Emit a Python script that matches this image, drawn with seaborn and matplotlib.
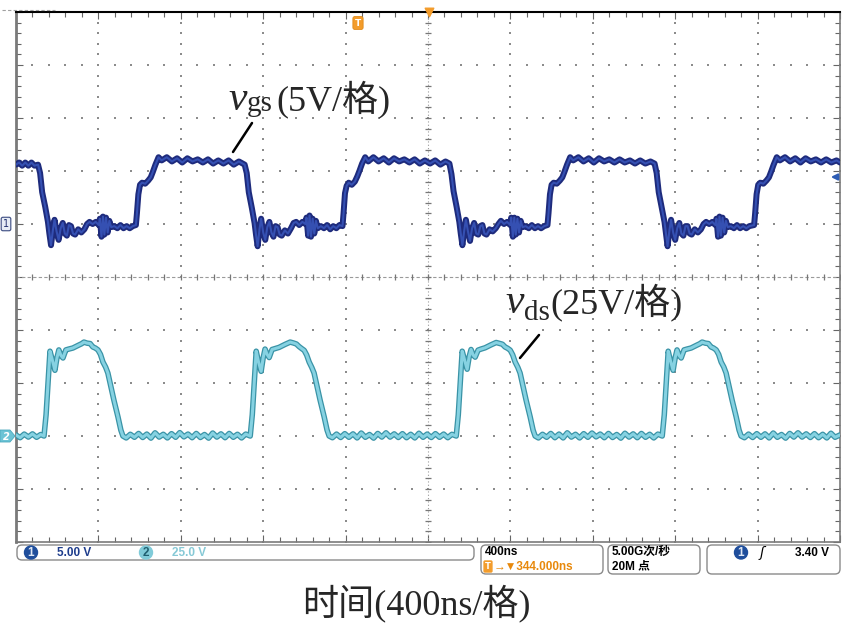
import numpy as np
import matplotlib
matplotlib.use("Agg")
import matplotlib.pyplot as plt
from matplotlib.ticker import MultipleLocator
from matplotlib.patches import FancyBboxPatch, Circle, Polygon
import seaborn as sns

# ---------------- data ----------------
# CH1: v_gs, 5 V/div, time in ns (400 ns/div)
ch1_t = [0, 15, 30, 45, 60, 75, 90, 107,
         117, 127, 142, 155, 162, 170, 179, 187, 197, 207, 217, 227, 237, 247, 257, 267, 277, 287, 302, 317, 332, 345,
         357, 372, 387, 402, 407, 415, 422, 429, 437, 445, 453, 462, 477, 492, 507, 522, 537, 552, 567, 582,
         587, 594, 602, 612, 627, 642, 654, 664, 677, 692, 707,
         732, 757, 782, 807, 832, 857, 882, 907, 932, 957, 982, 1007, 1032, 1057, 1082, 1110,
         1120, 1130, 1145, 1158, 1165, 1173, 1182, 1190, 1200, 1210, 1220, 1230, 1240, 1250, 1260, 1270, 1280, 1290,
         1305, 1320, 1335, 1348, 1360, 1375, 1390, 1405, 1410, 1418, 1425, 1432, 1440, 1448, 1456, 1465, 1480, 1495,
         1510, 1525, 1540, 1555, 1570, 1585,
         1590, 1597, 1605, 1615, 1630, 1645, 1657, 1667, 1680, 1695, 1710,
         1735, 1760, 1785, 1810, 1835, 1860, 1885, 1910, 1935, 1960, 1985, 2010, 2035, 2060, 2085, 2104,
         2114, 2124, 2139, 2152, 2159, 2167, 2176, 2184, 2194, 2204, 2214, 2224, 2234, 2244, 2254, 2264, 2274, 2284,
         2299, 2314, 2329, 2342, 2354, 2369, 2384, 2399, 2404, 2412, 2419, 2426, 2434, 2442, 2450, 2459, 2474, 2489,
         2504, 2519, 2534, 2549, 2564, 2580,
         2585, 2592, 2600, 2610, 2625, 2640, 2652, 2662, 2675, 2690, 2705,
         2730, 2755, 2780, 2805, 2830, 2855, 2880, 2905, 2930, 2955, 2980, 3005, 3030, 3055, 3080, 3100,
         3110, 3120, 3135, 3148, 3155, 3163, 3172, 3180, 3190, 3200, 3210, 3220, 3230, 3240, 3250, 3260, 3270, 3280,
         3295, 3310, 3325, 3338, 3350, 3365, 3380, 3395, 3400, 3408, 3415, 3422, 3430, 3438, 3446, 3455, 3470, 3485,
         3500, 3515, 3530, 3545, 3560, 3583,
         3588, 3595, 3603, 3613, 3628, 3643, 3655, 3665, 3678, 3693, 3708,
         3733, 3758, 3783, 3808, 3833, 3858, 3883, 3908, 3933, 3958, 3983, 4000]
ch1_v = [5.6, 5.8, 5.5, 5.8, 5.5, 5.8, 5.5, 5.6,
         4.8, 3.0, 1.6, 0.2, -0.9, -2.0, -0.6, 0.4, -0.7, -1.5, -0.4, 0.1, -0.9, -1.1, -0.1, -0.2, -0.9, -1.0, -0.5, -0.8, -0.5, 0.0,
         0.2, 0.0, 0.2, -0.1, 0.5, -1.2, 0.7, -1.0, 0.6, -0.8, 0.3, -0.3, -0.2, -0.4, -0.1, -0.4, -0.2, -0.4, -0.2, -0.1,
         1.0, 2.8, 3.7, 3.9, 3.8, 4.1, 4.4, 4.9, 5.6, 6.3, 6.0,
         6.3, 5.9, 6.2, 5.8, 6.2, 5.9, 6.1, 5.8, 6.1, 5.7, 6.0, 5.7, 6.0, 5.6, 5.9, 5.6,
         4.8, 3.0, 1.5, 0.1, -1.0, -2.1, -0.5, 0.5, -0.8, -1.5, -0.3, 0.2, -0.8, -1.2, -0.2, -0.3, -1.0, -1.1,
         -0.6, -0.9, -0.4, 0.1, 0.2, -0.1, 0.2, 0.0, 0.6, -1.1, 0.8, -1.2, 0.5, -0.9, 0.3, -0.4, -0.2, -0.4,
         -0.1, -0.5, -0.2, -0.4, -0.1, -0.2,
         1.0, 2.9, 3.6, 3.9, 3.7, 4.0, 4.5, 5.0, 5.7, 6.3, 5.9,
         6.3, 5.9, 6.2, 5.8, 6.2, 5.9, 6.1, 5.8, 6.1, 5.7, 6.0, 5.7, 6.0, 5.6, 5.9, 5.7,
         4.7, 3.1, 1.6, 0.2, -0.9, -2.0, -0.6, 0.4, -0.7, -1.6, -0.4, 0.1, -0.9, -1.0, -0.2, -0.1, -0.9, -1.0,
         -0.5, -0.7, -0.4, 0.0, 0.3, 0.0, 0.2, -0.1, 0.6, -1.2, 0.6, -1.0, 0.5, -0.8, 0.3, -0.3, -0.2, -0.4,
         -0.1, -0.4, -0.2, -0.4, -0.2, -0.1,
         1.0, 2.8, 3.7, 3.9, 3.8, 4.1, 4.4, 4.9, 5.6, 6.3, 6.0,
         6.3, 5.9, 6.2, 5.8, 6.2, 5.9, 6.1, 5.8, 6.1, 5.8, 6.0, 5.7, 6.0, 5.7, 5.9, 5.7,
         4.8, 3.0, 1.5, 0.2, -0.9, -2.1, -0.6, 0.4, -0.8, -1.5, -0.4, 0.1, -0.9, -1.1, -0.2, -0.2, -0.9, -1.0,
         -0.5, -0.8, -0.5, 0.0, 0.2, 0.0, 0.2, -0.1, 0.5, -1.2, 0.7, -1.1, 0.6, -0.8, 0.3, -0.3, -0.2, -0.4,
         -0.1, -0.4, -0.2, -0.4, -0.2, -0.1,
         1.0, 2.8, 3.7, 3.9, 3.8, 4.1, 4.4, 4.9, 5.6, 6.3, 6.0,
         6.3, 5.9, 6.2, 5.8, 6.2, 5.9, 6.1, 5.8, 6.1, 5.8, 6.0, 5.8]

# CH2: v_ds, 25 V/div
ch2_t = [0, 20, 40, 60, 80, 100, 120, 136,
         146, 156, 165, 176, 189, 199, 208, 218, 228, 242, 256, 276, 290, 305, 318, 330, 345, 360, 373, 385, 398,
         410, 422, 435, 446, 461, 475, 495, 509, 519,
         535, 555, 575, 595, 615, 635, 655, 675, 695, 715, 735, 755, 775, 795, 815, 835, 855, 875, 895, 915, 935,
         955, 975, 995, 1015, 1035, 1055, 1075, 1095, 1115, 1137,
         1147, 1157, 1166, 1177, 1190, 1200, 1209, 1219, 1229, 1243, 1257, 1277, 1291, 1306, 1319, 1331, 1346, 1361,
         1374, 1386, 1399, 1411, 1423, 1436, 1447, 1462, 1476, 1496, 1510, 1520,
         1536, 1556, 1576, 1596, 1616, 1636, 1656, 1676, 1696, 1716, 1736, 1756, 1776, 1796, 1816, 1836, 1856,
         1876, 1896, 1916, 1936, 1956, 1976, 1996, 2016, 2036, 2056, 2076, 2096, 2116, 2137,
         2147, 2157, 2166, 2177, 2190, 2200, 2209, 2219, 2229, 2243, 2257, 2277, 2291, 2306, 2319, 2331, 2346, 2361,
         2374, 2386, 2399, 2411, 2423, 2436, 2447, 2462, 2476, 2496, 2510, 2520,
         2536, 2556, 2576, 2596, 2616, 2636, 2656, 2676, 2696, 2716, 2736, 2756, 2776, 2796, 2816, 2836, 2856,
         2876, 2896, 2916, 2936, 2956, 2976, 2996, 3016, 3036, 3056, 3076, 3096, 3116, 3137,
         3147, 3157, 3166, 3177, 3190, 3200, 3209, 3219, 3229, 3243, 3257, 3277, 3291, 3306, 3319, 3331, 3346, 3361,
         3374, 3386, 3399, 3411, 3423, 3436, 3447, 3462, 3476, 3496, 3510, 3520,
         3536, 3556, 3576, 3596, 3616, 3636, 3656, 3676, 3696, 3716, 3736, 3756, 3776, 3796, 3816, 3836, 3856,
         3876, 3896, 3916, 3936, 3956, 3976, 4000]
ch2_v = [0.5, -0.8, 0.9, -0.5, 1.0, -0.6, 0.7, 0.0,
         10, 26, 40, 36, 31, 37, 40.6, 38, 36.8, 40.6, 41, 41.5, 42.2, 42.9, 43.5, 44.3, 43.8, 43.6, 42.0, 41.5, 40.6,
         38.5, 34.9, 32.5, 29.7, 23.1, 17.0, 9.0, 2.8, 0.0,
         -0.9, 0.8, -0.6, 1.2, -0.7, 0.9, -1.0, 1.5, -0.5, 0.8, -0.9, 1.1, -0.6, 1.6, -0.4, 0.9, -0.8, 1.2, -0.7, 0.7, -1.0,
         1.4, -0.5, 1.0, -0.8, 1.2, -0.6, 0.8, -0.9, 0.9, 0.0,
         10, 26, 40, 35, 30.5, 37, 41, 38.5, 37, 40.8, 41.2, 41.8, 42.5, 43.2, 43.8, 44.3, 43.9, 43.4,
         42.2, 41.3, 40.4, 38.2, 34.9, 32.3, 29.7, 23.1, 17.0, 9.0, 2.8, 0.0,
         -0.8, 0.9, -0.7, 1.1, -0.6, 1.0, -0.9, 1.4, -0.6, 0.7, -1.0, 1.2, -0.5, 1.5, -0.5, 1.0, -0.7,
         1.1, -0.8, 0.8, -0.9, 1.3, -0.6, 0.9, -0.7, 1.1, -0.6, 0.9, -0.8, 0.8, 0.0,
         10, 26, 40, 36, 31.5, 37.5, 40.8, 38.2, 37.2, 40.5, 41, 41.6, 42.3, 43.0, 43.6, 44.1, 43.7, 43.3,
         42.0, 41.4, 40.5, 38.3, 34.9, 32.4, 29.7, 23.1, 17.0, 9.0, 2.8, 0.0,
         -0.9, 0.8, -0.6, 1.2, -0.8, 0.9, -0.9, 1.5, -0.5, 0.8, -0.9, 1.1, -0.6, 1.4, -0.4, 0.9, -0.8,
         1.2, -0.7, 0.7, -1.0, 1.3, -0.5, 1.0, -0.8, 1.2, -0.6, 0.8, -0.9, 0.9, 0.0,
         10, 26, 40, 35.5, 31, 37, 40.6, 38, 36.8, 40.6, 41, 41.5, 42.2, 42.9, 43.5, 44.3, 43.8, 43.6,
         42.0, 41.5, 40.6, 38.5, 34.9, 32.5, 29.7, 23.1, 17.0, 9.0, 2.8, 0.0,
         -0.8, 0.9, -0.7, 1.1, -0.6, 1.0, -0.9, 1.4, -0.6, 0.7, -1.0, 1.2, -0.5, 1.5, -0.5, 1.0, -0.7,
         1.1, -0.8, 0.8, -0.9, 1.3, -0.6, 0.5]

# scope settings shown in the readout
ch1_scale = "5.00 V"
ch2_scale = "25.0 V"
time_scale = "400ns"
trig_pos = "344.000ns"
sample_rate = "5.00G次/秒"
rec_len = "20M 点"
trig_level = "3.40 V"
x_title = "时间(400ns/格)"

# ---------------- figure ----------------
sns.set_style("white")
plt.rcParams["font.family"] = ["Liberation Serif", "Noto Sans CJK SC", "DejaVu Sans"]

W, H = 844, 623
fig = plt.figure(figsize=(W / 100, H / 100), dpi=100)
fig.patch.set_facecolor("white")

L, T, R, B = 16, 12, 840, 542
ax = fig.add_axes([L / W, 1 - B / H, (R - L) / W, (B - T) / H])
ax2 = ax.twinx()

# traces
sns.lineplot(x=ch1_t, y=ch1_v, ax=ax, color="#1e2b7c", linewidth=4.3, estimator=None, sort=False, zorder=5)
sns.lineplot(x=ch1_t, y=ch1_v, ax=ax, color="#3550b2", linewidth=1.5, estimator=None, sort=False, zorder=6)
sns.lineplot(x=ch2_t, y=ch2_v, ax=ax2, color="#3a93a6", linewidth=4.0, estimator=None, sort=False, zorder=5)
sns.lineplot(x=ch2_t, y=ch2_v, ax=ax2, color="#86d2e2", linewidth=2.2, estimator=None, sort=False, zorder=6)

# 10 x 10 division screen: CH1 ground at +1 div, CH2 ground at -3 div
ax.set_xlim(0, 4000)
ax.set_ylim(-30, 20)
ax2.set_ylim(-50, 200)
for a in (ax, ax2):
    a.set_xlabel("")
    a.set_ylabel("")

# graticule dots
dot_c = "#8c8c8c"
for k in range(1, 10):
    if k == 5:
        continue
    ys = np.arange(-30, 20.01, 1)
    ax.scatter([400 * k] * len(ys), ys, s=2.2, marker="s", color=dot_c, linewidths=0, zorder=1)
for yv in [-25, -20, -15, -10, 0, 5, 10, 15]:
    xs = np.arange(0, 4000.1, 80)
    ax.scatter(xs, [yv] * len(xs), s=2.2, marker="s", color=dot_c, linewidths=0, zorder=1)
# centre cross with tick marks
ax.plot([2000, 2000], [-30, 20], ls=(0, (1, 2)), color="#9a9a9a", lw=0.8, zorder=1)
ax.plot([0, 4000], [-5, -5], ls=(0, (3, 2)), color="#9a9a9a", lw=0.8, zorder=1)
ys = np.arange(-30, 20.01, 1)
ax.scatter([2000] * len(ys), ys, marker="_", s=18, color="#777777", linewidths=0.9, zorder=1)
xs = np.arange(0, 4000.1, 80)
ax.scatter(xs, [-5] * len(xs), marker="|", s=18, color="#777777", linewidths=0.9, zorder=1)

# border ticks
ax.xaxis.set_major_locator(MultipleLocator(400))
ax.xaxis.set_minor_locator(MultipleLocator(80))
ax.yaxis.set_major_locator(MultipleLocator(5))
ax.yaxis.set_minor_locator(MultipleLocator(1))
ax.tick_params(which="both", direction="in", top=True, bottom=True, left=True, right=True,
               labelbottom=False, labelleft=False, labeltop=False, labelright=False,
               color="#666666", width=0.8)
ax.tick_params(which="major", length=5)
ax.tick_params(which="minor", length=3.5)
ax2.set_yticks([])
ax2.tick_params(right=False, labelright=False)
for s in ax2.spines.values():
    s.set_visible(False)
for name, s in ax.spines.items():
    s.set_color("#7a7a7a")
    s.set_linewidth(1.2)
ax.spines["top"].set_color("black")
ax.spines["top"].set_linewidth(1.5)
ax.spines["left"].set_linewidth(2.0)

# ---------------- overlay in pixel coordinates ----------------
ov = fig.add_axes([0, 0, 1, 1], zorder=10)
ov.set_xlim(0, W)
ov.set_ylim(H, 0)
ov.axis("off")
ov.patch.set_alpha(0)

serif_cjk = ["Liberation Serif", "Noto Sans CJK SC"]
# v_gs label
ov.text(228, 110, "v", fontsize=30, style="italic", family="Liberation Serif", va="baseline")
ov.text(247, 111, "gs", fontsize=21, family="Liberation Serif", va="baseline")
ov.text(276, 110, "(5V/格)", fontsize=26, family=serif_cjk, va="baseline")
ov.plot([233, 252], [152, 123], color="black", lw=1.8)
# v_ds label
ov.text(505, 313, "v", fontsize=30, style="italic", family="Liberation Serif", va="baseline")
ov.text(524, 320, "ds", fontsize=21, family="Liberation Serif", va="baseline")
ov.text(550, 313, "(25V/格)", fontsize=26, family=serif_cjk, va="baseline")
ov.plot([520, 539], [358, 335], color="black", lw=1.8)

# axis title
ov.text(416, 603, x_title, fontsize=26, family=serif_cjk, ha="center", va="center")

# channel markers
ov.text(6, 224, "1", ha="center", va="center", fontsize=7, color="#23306e", family="DejaVu Sans",
        bbox=dict(boxstyle="round,pad=0.18", fc="#e6ecf5", ec="#3a4a80", lw=0.8))
ov.add_patch(Polygon([[0, 430], [10, 430], [15, 436], [10, 442], [0, 442]], closed=True,
                     fc="#6cc3d5", ec="#4aa9be", lw=0.6))
ov.text(6.5, 436.5, "2", ha="center", va="center", fontsize=7, color="white", fontweight="bold",
        style="italic", family="DejaVu Sans")
# trigger level arrow (right)
ov.annotate("", xy=(828, 177), xytext=(841, 177),
            arrowprops=dict(arrowstyle="-|>", color="#2e5db5", lw=1.6, mutation_scale=9))
# trigger position markers (top)
ov.text(358, 23, "T", ha="center", va="center", color="white", fontsize=6.5, fontweight="bold",
        family="DejaVu Sans", bbox=dict(boxstyle="round,pad=0.22", fc="#f39c2b", ec="#e08a1a", lw=0.6))
ov.scatter([429], [12], marker="v", s=38, color="#f39c2b", zorder=12)
ov.plot([2, 55], [10, 10], ls=(0, (3, 2)), color="#a0a0a0", lw=0.8)

# status bar
box_kw = dict(boxstyle="round,pad=0,rounding_size=5", fc="white", ec="#8a8a8a", lw=1.0)
ov.add_patch(FancyBboxPatch((17, 545), 457, 15, **box_kw))
ov.add_patch(FancyBboxPatch((481, 545), 122, 29, **box_kw))
ov.add_patch(FancyBboxPatch((608, 545), 92, 29, **box_kw))
ov.add_patch(FancyBboxPatch((707, 545), 133, 29, **box_kw))

stat_font = ["Liberation Sans", "Noto Sans CJK SC", "DejaVu Sans"]
sk = dict(fontsize=8.5, fontweight="bold", family=stat_font, va="center")
skc = dict(fontsize=8.5, fontweight="bold", family=stat_font, va="center", ha="center")

ov.add_patch(Circle((31, 552.5), 6.5, fc="#1f4e9c", ec="#1f4e9c"))
ov.text(31, 553, "1", color="#dfe8f5", **skc)
ov.text(57, 553, ch1_scale, color="#1d3c8c", **sk)
ov.add_patch(Circle((146, 552.5), 6.5, fc="#80cbd9", ec="#80cbd9"))
ov.text(146, 553, "2", color="#1f5f70", **skc)
ov.text(172, 553, ch2_scale, color="#86c9d6", **sk)

ov.text(485, 552, time_scale, color="black", **sk)
ov.text(488, 566.5, "T", ha="center", color="white", fontsize=6, fontweight="bold", family="DejaVu Sans",
        va="center", bbox=dict(boxstyle="round,pad=0.12", fc="#f39c2b", ec="#f39c2b"))
ov.text(494, 566.5, "→▼" + trig_pos, color="#e8890c", **sk)

ov.text(612, 552, sample_rate, color="black", **sk)
ov.text(612, 566.5, rec_len, color="black", **sk)

ov.add_patch(Circle((741, 552.5), 6.5, fc="#1f4e9c", ec="#1f4e9c"))
ov.text(741, 553, "1", color="#dfe8f5", **skc)
ov.text(760, 553, "ʃ", color="black", fontsize=10, family=["DejaVu Sans"], va="center", style="italic")
ov.text(795, 553, trig_level, color="black", **sk)

fig.savefig("out.png", dpi=100)
